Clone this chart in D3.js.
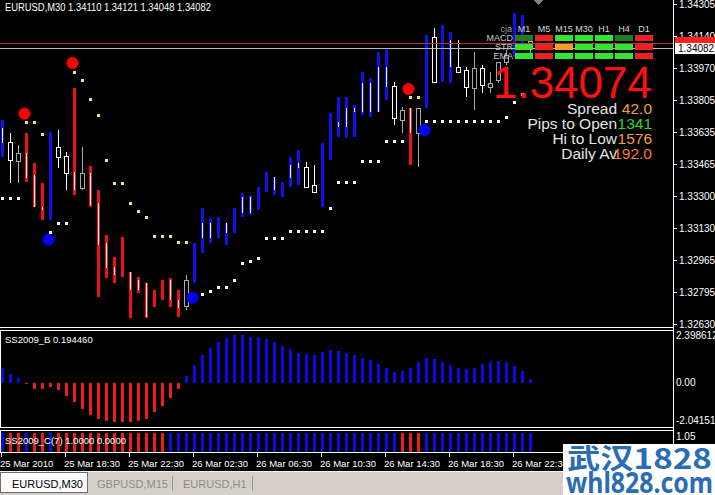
<!DOCTYPE html>
<html><head><meta charset="utf-8">
<script src="https://cdn.jsdelivr.net/npm/d3@7"></script>
<style>
html,body{margin:0;padding:0;background:#000;}
svg{display:block;}
text{font-family:'Liberation Sans',Arial,sans-serif;}
</style></head><body>
<svg id="c" width="715" height="495"></svg>
<script>
// ---------- DATA ----------
const symbolTitle = "EURUSD,M30  1.34110 1.34121 1.34048 1.34082";
const timeLabels = ["25 Mar 2010","25 Mar 18:30","25 Mar 22:30","26 Mar 02:30","26 Mar 06:30","26 Mar 10:30","26 Mar 14:30","26 Mar 18:30","26 Mar 22:30"];
const timeLabelBars = [0,8,16,24,32,40,48,56,64];
const priceTicks = [1.34305,1.34140,1.33970,1.33805,1.33635,1.33465,1.33300,1.33130,1.32965,1.32795,1.32630];

const opens = [1.33578,1.33489,1.33526,1.33526,1.33411,1.33243,1.33405,1.33505,1.33421,1.33426,1.33421,1.33421,1.33264,1.33055,1.32930,1.32982,1.32903,1.32862,1.32846,1.32767,1.32809,1.32862,1.32757,1.32862,1.32950,1.33081,1.33081,1.33133,1.33107,1.33175,1.33212,1.33212,1.33280,1.33374,1.33332,1.33332,1.33395,1.33447,1.33348,1.33322,1.33411,1.33609,1.33662,1.33662,1.33740,1.33740,1.33740,1.33740,1.33871,1.33709,1.33751,1.33761,1.33761,1.33960,1.33897,1.34064,1.33976,1.33949,1.33871,1.33970,1.33881,1.33892,1.34002,1.34038,1.34143,1.34169,1.34110];
const highs = [1.33698,1.33630,1.33568,1.33630,1.33473,1.33369,1.33636,1.33646,1.33531,1.33866,1.33557,1.33458,1.33332,1.33097,1.32982,1.33086,1.32903,1.32877,1.32846,1.32809,1.32862,1.32872,1.32809,1.32888,1.33055,1.33238,1.33186,1.33191,1.33160,1.33238,1.33317,1.33306,1.33348,1.33426,1.33400,1.33374,1.33505,1.33541,1.33479,1.33463,1.33578,1.33735,1.33819,1.33819,1.33777,1.33949,1.33918,1.34054,1.34064,1.33897,1.33766,1.33761,1.33761,1.34143,1.34180,1.34195,1.34159,1.34117,1.33976,1.34054,1.33986,1.33949,1.34002,1.34064,1.34258,1.34247,1.34121];
const lows = [1.33505,1.33369,1.33369,1.33374,1.33243,1.33175,1.33175,1.33447,1.33332,1.33306,1.33332,1.33243,1.32773,1.32872,1.32846,1.32877,1.32663,1.32794,1.32663,1.32720,1.32757,1.32720,1.32668,1.32705,1.32846,1.33003,1.33055,1.33081,1.33045,1.33107,1.33191,1.33201,1.33228,1.33322,1.33306,1.33296,1.33348,1.33358,1.33348,1.33322,1.33243,1.33489,1.33609,1.33604,1.33609,1.33724,1.33714,1.33740,1.33803,1.33672,1.33630,1.33463,1.33452,1.33761,1.33892,1.33897,1.33892,1.33944,1.33819,1.33751,1.33840,1.33840,1.33892,1.33986,1.34028,1.34101,1.34048];
const closes = [1.33656,1.33583,1.33484,1.33395,1.33243,1.33228,1.33405,1.33557,1.33510,1.33332,1.33343,1.33254,1.33045,1.32924,1.32888,1.32982,1.32809,1.32809,1.32668,1.32767,1.32809,1.32757,1.32715,1.32726,1.32950,1.33160,1.33160,1.33133,1.33160,1.33175,1.33296,1.33296,1.33280,1.33374,1.33400,1.33332,1.33463,1.33473,1.33452,1.33358,1.33411,1.33609,1.33688,1.33761,1.33761,1.33892,1.33892,1.33976,1.33976,1.33876,1.33698,1.33630,1.33630,1.33960,1.34132,1.34064,1.34117,1.33976,1.33960,1.33866,1.33970,1.33871,1.33908,1.34002,1.34143,1.34169,1.34082];
// bar paint: B = blue, R = red, N = plain candle
const barPaint = ["B","N","N","R","R","R","B","N","N","R","N","R","R","R","R","R","R","R","R","R","R","R","R","N","B","B","B","B","B","B","B","B","B","B","B","B","B","B","N","N","B","B","B","B","B","B","B","B","B","N","N","R","N","B","N","B","B","N","N","N","N","N","N","N","B","B","N"];
// trailing stop dots: W = white (below), Y = yellow (above)
const stopValues = [1.33290,1.33290,1.33290,1.33688,1.33688,1.33625,1.33113,1.33160,1.33160,1.33949,1.33908,1.33808,1.33724,1.33489,1.33369,1.33369,1.33264,1.33222,1.33191,1.33092,1.33092,1.33092,1.33060,1.33060,1.32788,1.32788,1.32804,1.32825,1.32825,1.32862,1.32950,1.32961,1.32977,1.33081,1.33081,1.33081,1.33118,1.33118,1.33118,1.33118,1.33118,1.33238,1.33374,1.33374,1.33374,1.33484,1.33484,1.33484,1.33589,1.33589,1.33589,1.33819,1.33819,1.33693,1.33693,1.33693,1.33693,1.33693,1.33693,1.33693,1.33693,1.33693,1.33693,1.33714,1.33792,1.33834,null];
const stopSide = ["W","W","W","Y","Y","Y","W","W","W","Y","Y","Y","Y","Y","Y","Y","Y","Y","Y","Y","Y","Y","Y","Y","W","W","W","W","W","W","W","W","W","W","W","W","W","W","W","W","W","W","W","W","W","W","W","W","W","W","W","Y","Y","W","W","W","W","W","W","W","W","W","W","W","W","W","W"];
const sellSignalBars = [3,9,51];
const sellSignalPrices = [1.33730,1.33996,1.33860];
const buySignalBars = [6,24,53];
const buySignalPrices = [1.33071,1.32767,1.33646];
const redLinePrice = 1.34103;
const bidPrice = 1.34082;

// SS2009_B histogram
const histB = [0.69,0.41,0.23,-0.05,-0.30,-0.30,-0.20,-0.33,-0.60,-0.87,-1.22,-1.48,-1.68,-1.76,-1.83,-1.83,-1.83,-1.76,-1.68,-1.37,-1.07,-0.69,-0.30,0.30,0.84,1.30,1.60,1.88,2.06,2.21,2.21,2.14,2.10,2.05,1.88,1.72,1.57,1.39,1.33,1.30,1.42,1.52,1.48,1.37,1.30,1.17,1.04,0.87,0.69,0.50,0.56,0.69,0.96,1.17,1.11,0.96,0.84,0.69,0.65,0.71,0.87,0.96,1.02,0.96,0.80,0.53,0.19446];
const histBMax = 2.398612, histBMin = -2.04151;
const histBTitle = "SS2009_B 0.194460";
// SS2009_C state: 1 = blue, 0 = red
const stateC = [1,0,0,1,0,0,1,0,0,0,0,0,0,0,0,0,0,0,0,0,0,1,1,1,1,1,1,1,1,1,1,1,1,1,1,1,1,1,1,1,1,1,1,1,1,1,1,1,1,1,0,0,0,1,1,1,1,1,1,1,1,1,1,1,1,1,1];
const stateCTitle = "SS2009_C(7) 1.0000 0.0000";
const stateCLabel = "1.05";

// dashboard
const tfCols = ["M1","M5","M15","M30","H1","H4","D1"];
const dashRows = ["MACD","STR","EMA"];
const dashStates = [["dg","r","g","g","g","dg","r"],["g","r","o","g","g","g","r"],["g","r","g","g","g","g","r"]];
const bigPrice = "1.34074";
const infoLabels = ["Spread","Pips to Open","Hi to Low","Daily Av"];
const infoValues = ["42.0","1341","1576","192.0"];
const infoValueColors = ["#f0a040","#22dd22","#f0a040","#f47a30"];
const tabs = ["EURUSD,M30","GBPUSD,M15","EURUSD,H1"];

// ---------- DRAW ----------
const W=715,H=495;
const svg=d3.select('#c');
svg.append('rect').attr('width',W).attr('height',H).attr('fill','#000');
const axisX = 673.5;
const x = d3.scaleLinear().domain([0,66]).range([2,530]);
const y = d3.scaleLinear().domain([1.32614,1.34326]).range([327,0]);
const cx = i => Math.round(x(i));

svg.append('clipPath').attr('id','mainClip').append('rect').attr('x',0).attr('y',0).attr('width',673).attr('height',327);
const main = svg.append('g').attr('clip-path','url(#mainClip)').attr('shape-rendering','crispEdges');

const idx = d3.range(opens.length);
const BLUE='#1010f0', RED='#f01010';

// plain candles
idx.filter(i=>barPaint[i]==='N').forEach(i=>{
  const bull = closes[i]>=opens[i];
  const col = bull ? '#ffffff' : '#a8a8a8';
  const top = Math.round(y(Math.max(opens[i],closes[i]))), bot = Math.round(y(Math.min(opens[i],closes[i])));
  const xc = cx(i)+0.5;
  main.append('line').attr('x1',xc).attr('x2',xc).attr('y1',y(highs[i])).attr('y2',top).attr('stroke',col);
  main.append('line').attr('x1',xc).attr('x2',xc).attr('y1',bot).attr('y2',y(lows[i])).attr('stroke',col);
  main.append('rect').attr('x',cx(i)-1.5).attr('y',top+0.5).attr('width',4).attr('height',Math.max(1,bot-top)).attr('fill','#000').attr('stroke',col);
});
// painted bars
idx.filter(i=>barPaint[i]!=='N').forEach(i=>{
  const col = barPaint[i]==='B'?BLUE:RED;
  main.append('rect').attr('x',cx(i)-1).attr('width',3).attr('y',y(highs[i])).attr('height',y(lows[i])-y(highs[i])).attr('fill',col);
  const t=y(Math.max(opens[i],closes[i])), b=y(Math.min(opens[i],closes[i]));
  if(b-t>0.8) main.append('rect').attr('x',cx(i)).attr('width',1).attr('y',t).attr('height',b-t).attr('fill','#ffffff');
});
// stop dots
idx.filter(i=>stopValues[i]!=null).forEach(i=>{
  main.append('rect').attr('x',cx(i)-1).attr('y',Math.round(y(stopValues[i]))-1).attr('width',3).attr('height',3)
   .attr('fill',stopSide[i]==='W'?'#ffffff':'#efe08a');
});
// signals
sellSignalBars.forEach((b,j)=>main.append('circle').attr('cx',x(b)-1.5).attr('cy',y(sellSignalPrices[j])).attr('r',6).attr('fill','#ff0000').attr('shape-rendering','auto'));
buySignalBars.forEach((b,j)=>main.append('circle').attr('cx',x(b)-1.5).attr('cy',y(buySignalPrices[j])).attr('r',6).attr('fill','#0000ff').attr('shape-rendering','auto'));

// price lines
main.append('line').attr('x1',0).attr('x2',673).attr('y1',Math.round(y(redLinePrice))+0.5).attr('y2',Math.round(y(redLinePrice))+0.5).attr('stroke','#b83030');
main.append('line').attr('x1',0).attr('x2',673).attr('y1',Math.round(y(bidPrice))+1.5).attr('y2',Math.round(y(bidPrice))+1.5).attr('stroke','#b8b8b8');

// chart shift marker
main.append('path').attr('d','M533,0 L543,0 L538,5 Z').attr('fill','#808080');

// dashboard
const dashColor = {g:'#2ee82e',dg:'#1e7e1e',r:'#ee2020',o:'#f0a020'};
const dash = svg.append('g').attr('shape-rendering','crispEdges');
dash.append('text').attr('x',512).attr('y',32).attr('text-anchor','end').attr('font-size',9).attr('fill','#9a9a9a').text('cja');
tfCols.forEach((c,i)=>dash.append('text').attr('x',524+20*i).attr('y',32).attr('text-anchor','middle').attr('font-size',9).attr('fill','#d8d8d8').text(c));
dashRows.forEach((r,j)=>{
  dash.append('text').attr('x',513).attr('y',41+9*j).attr('text-anchor','end').attr('font-size',9).attr('fill','#c8c8c8').text(r);
  dashStates[j].forEach((s,i)=>dash.append('rect').attr('x',515+20*i).attr('y',35+9*j).attr('width',18).attr('height',6).attr('fill',dashColor[s]));
});
// big price and info lines
svg.append('text').attr('x',652).attr('y',98).attr('text-anchor','end').attr('font-size',44).attr('fill','#ff1010').text(bigPrice);
infoLabels.forEach((l,i)=>{
  svg.append('text').attr('x',617).attr('y',114+15*i).attr('text-anchor','end').attr('font-size',15.5).attr('fill','#e4e4e4').text(l);
  svg.append('text').attr('x',652).attr('y',114+15*i).attr('text-anchor','end').attr('font-size',15.5).attr('fill',infoValueColors[i]).text(infoValues[i]);
});

// title
svg.append('text').attr('x',5).attr('y',11).attr('font-size',10.5).attr('fill','#fff')
  .attr('textLength',206).attr('lengthAdjust','spacingAndGlyphs').text(symbolTitle);

// right axis
const ax = svg.append('g').attr('shape-rendering','crispEdges');
ax.append('line').attr('x1',axisX).attr('x2',axisX).attr('y1',0).attr('y2',452).attr('stroke','#fff');
ax.append('line').attr('x1',0).attr('x2',axisX).attr('y1',327.5).attr('y2',327.5).attr('stroke','#fff');
priceTicks.forEach(p=>{
  const yy=Math.round(y(p))+0.5;
  ax.append('line').attr('x1',axisX).attr('x2',axisX+3).attr('y1',yy).attr('y2',yy).attr('stroke','#fff');
  ax.append('text').attr('x',679).attr('y',yy+3.5).attr('font-size',10).attr('fill','#fff').text(p.toFixed(5));
});
// price boxes
const ry=Math.round(y(redLinePrice));
ax.append('rect').attr('x',675).attr('y',ry-6).attr('width',40).attr('height',12).attr('fill','#ff2020');
const by=Math.round(y(bidPrice))+1;
ax.append('rect').attr('x',675).attr('y',by-5).attr('width',40).attr('height',11).attr('fill','#fff');
ax.append('text').attr('x',678).attr('y',by+4).attr('font-size',10).attr('fill','#000').text(bidPrice.toFixed(5));

// ---- panel B ----
const yB = d3.scaleLinear().domain([histBMin,histBMax]).range([427,331]);
const pB = svg.append('g').attr('shape-rendering','crispEdges');
pB.append('rect').attr('x',0.5).attr('y',330.5).attr('width',673).attr('height',97).attr('fill','none').attr('stroke','#fff');
histB.forEach((v,i)=>{
  const y0=yB(0), y1=yB(v);
  pB.append('rect').attr('x',cx(i)-1).attr('width',3).attr('y',Math.min(y0,y1)).attr('height',Math.abs(y1-y0)).attr('fill',v>=0?'#0a0ae6':'#f01c1c');
});
pB.append('text').attr('x',5).attr('y',343).attr('font-size',9.5).attr('fill','#fff').text(histBTitle);
pB.append('text').attr('x',676).attr('y',yB(histBMax)+8).attr('font-size',10).attr('fill','#fff').text(String(histBMax));
pB.append('text').attr('x',676).attr('y',yB(0)+3.5).attr('font-size',10).attr('fill','#fff').text('0.00');
pB.append('text').attr('x',676).attr('y',yB(histBMin)-3).attr('font-size',10).attr('fill','#fff').text(String(histBMin));

// ---- panel C ----
const pC = svg.append('g').attr('shape-rendering','crispEdges');
pC.append('rect').attr('x',0.5).attr('y',430.5).attr('width',673).attr('height',22).attr('fill','none').attr('stroke','#fff');
const yC = d3.scaleLinear().domain([0,1.05]).range([452,431]);
stateC.forEach((s,i)=>pC.append('rect').attr('x',cx(i)-1).attr('width',3).attr('y',yC(1.0)+1).attr('height',yC(0)-yC(1.0)-1).attr('fill',s?'#0a0ae6':'#f01c1c'));
pC.append('text').attr('x',5).attr('y',444).attr('font-size',9.5).attr('fill','#fff').text(stateCTitle);
pC.append('text').attr('x',676).attr('y',440).attr('font-size',10).attr('fill','#fff').text(stateCLabel);

// ---- time axis ----
const tA = svg.append('g').attr('shape-rendering','crispEdges');
timeLabelBars.forEach((b,i)=>{
  const tx = cx(b)-1+0.5;
  tA.append('line').attr('x1',tx).attr('x2',tx).attr('y1',453).attr('y2',457).attr('stroke','#fff');
  tA.append('text').attr('x',cx(b)-2).attr('y',467).attr('font-size',9.5).attr('fill','#fff').text(timeLabels[i]);
});

// ---- tabs ----
const tb = svg.append('g').attr('shape-rendering','crispEdges');
tb.append('rect').attr('x',0).attr('y',471).attr('width',W).attr('height',24).attr('fill','#d4d0c8');
tb.append('line').attr('x1',0).attr('x2',W).attr('y1',471.5).attr('y2',471.5).attr('stroke','#f4f4f4');
tb.append('rect').attr('x',0.5).attr('y',472.5).attr('width',87).attr('height',20).attr('fill','#fbfbfb').attr('stroke','#6e6e6e');
tb.append('text').attr('x',12).attr('y',488).attr('font-size',11).attr('fill','#000').text(tabs[0]);
tb.append('text').attr('x',97).attr('y',488).attr('font-size',11).attr('fill','#8c8c8c').text(tabs[1]);
tb.append('text').attr('x',183).attr('y',488).attr('font-size',11).attr('fill','#8c8c8c').text(tabs[2]);
[172.5,252.5].forEach(sx=>tb.append('line').attr('x1',sx).attr('x2',sx).attr('y1',476).attr('y2',491).attr('stroke','#9a9a9a'));

// ---- watermark ----
svg.append('rect').attr('x',563).attr('y',444).attr('width',152).attr('height',51).attr('fill','#fff');
svg.append('text').attr('x',567).attr('y',469).attr('font-size',28).attr('font-weight','bold').attr('fill','#2a6db5')
  .style('font-family',"'Noto Sans CJK SC',sans-serif").attr('textLength',145).attr('lengthAdjust','spacingAndGlyphs').text('武汉1828');
svg.append('text').attr('x',566).attr('y',493).attr('font-size',28).attr('font-weight','bold').attr('fill','#2a6db5')
  .style('font-family',"'Noto Sans',sans-serif").attr('textLength',147).attr('lengthAdjust','spacingAndGlyphs').text('whl828.com');
</script></body></html>
